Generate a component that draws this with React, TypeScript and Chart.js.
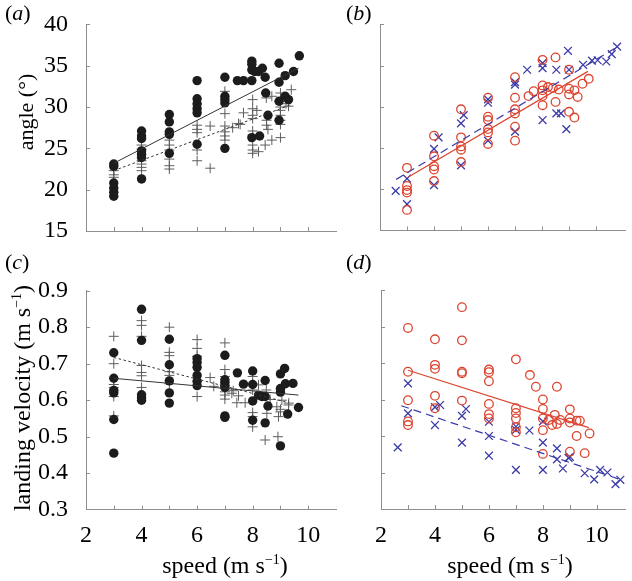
import React, { useEffect, useRef } from 'react';
import { Chart, registerables } from 'chart.js';

Chart.register(...registerables);

type P = [number, number];

// ---------- DATA ----------
// speed categories (m s^-1) used on the x axis
const xTickValues = [3, 4, 5, 6, 7, 8, 9, 10];
const xLabelValues = [2, 4, 6, 8, 10];
const angleTicks = [20, 25, 30, 35, 40];
const velocityTicks = [0.4, 0.5, 0.6, 0.7, 0.8, 0.9];

// (a) angle, filled circles
const aDots: P[] = [
  [3, 23.1], [3, 22.8], [3, 20.8], [3, 20.2], [3, 19.7], [3, 19.2],
  [4, 27.1], [4, 26.5], [4, 26.2], [4, 24.7], [4, 24.3], [4, 23.9], [4, 21.3],
  [5, 29.1], [5, 28.2], [5, 27.0], [5, 26.7], [5, 24.4],
  [6, 33.2], [6, 31.0], [6, 30.4], [6, 29.8], [6, 29.3], [6, 25.5],
  [7, 33.6], [7, 31.3], [7, 30.9], [7, 30.5], [7, 25.0],
  [7.45, 33.2], [7.67, 33.2], [7.97, 33.2],
  [7.97, 35.55], [7.97, 35.17], [7.97, 34.5], [8.07, 34.3], [8.21, 34.3], [8.35, 34.7],
  [8.45, 33.6], [8.47, 31.7], [8.55, 29.0], [7.97, 26.3], [8.25, 26.5],
  [8.95, 35.3], [8.95, 33.0], [9.17, 33.8], [9.47, 34.3], [9.68, 36.2],
  [9.17, 31.3], [9.29, 30.9], [8.95, 30.7], [8.95, 28.4],
];
// (a) angle, plus markers
const aPlus: P[] = [
  [3, 22.3], [3, 21.8], [3, 21.5],
  [4, 25.4], [4, 24.9], [4, 23.5], [4, 23.1], [4, 22.7], [4, 22.3],
  [5, 26.0], [5, 25.4], [5, 24.8], [5, 23.7], [5, 22.9], [5, 22.5],
  [6, 27.8], [6, 27.3], [6, 26.9], [6, 24.8], [6, 23.5],
  [6.47, 27.7], [6.47, 22.6],
  [7, 31.9], [7, 29.2], [7, 27.7], [7, 27.0], [7, 26.5], [7, 26.0],
  [7.28, 27.5], [7.49, 28.0], [7.55, 27.9], [7.67, 29.3],
  [8, 30.9], [8, 29.8], [8, 29.0], [8, 28.6], [8, 27.1], [8, 26.6], [8, 25.4], [8, 24.8], [8, 24.4],
  [8.15, 29.6], [8.21, 24.6], [8.45, 25.4], [8.69, 26.0], [8.49, 31.1], [8.69, 31.3],
  [8.5, 28.4], [8.5, 27.8], [8.55, 27.3],
  [9, 31.7], [9, 30.7], [9, 30.0], [9, 29.6], [9, 29.0], [9, 28.4], [9, 27.9], [9, 26.3],
  [9.39, 32.1], [9.29, 30.1], [9.2, 30.4],
];
const aFitDots: P[] = [[3, 23.2], [9.65, 34.7]];
const aFitPlus: P[] = [[3, 22.3], [9.4, 30.3]];

// (b) angle, open circles (red) and crosses (blue)
const bCircles: P[] = [
  [3, 22.6], [3, 20.4], [3, 19.9], [3, 19.6], [3, 17.5],
  [4, 26.5], [4, 24.0], [4, 22.8], [4, 22.4], [4, 21.0],
  [5, 29.7], [5, 26.3], [5, 25.2], [5, 24.8], [5, 23.3],
  [6, 31.1], [6, 28.8], [6, 28.4], [6, 27.3], [6, 26.9], [6, 25.5],
  [7, 33.6], [7, 31.1], [7, 29.7], [7, 29.2], [7, 27.6], [7, 25.9],
  [7.5, 31.3], [7.69, 31.9],
  [8.02, 35.7], [8.02, 32.6], [8.02, 32.0], [8.02, 31.3], [8.02, 30.2],
  [8.22, 32.4], [8.4, 32.3], [8.5, 36.0], [8.5, 30.6], [8.62, 32.1],
  [9, 34.5], [9, 32.2], [9, 31.5], [9, 29.4],
  [9.2, 32.0], [9.2, 28.7], [9.32, 31.2], [9.5, 32.8], [9.73, 33.4],
];
const bCrosses: P[] = [
  [2.58, 19.8], [3, 21.3], [3, 18.2],
  [4, 24.9], [4.17, 26.3], [4, 20.5],
  [5, 28.0], [5.1, 29.0], [5, 22.9],
  [6, 30.9], [6, 30.5], [6, 25.9],
  [7, 33.0], [7, 32.7], [7, 27.0],
  [7.45, 34.5], [8.02, 35.3], [8.02, 34.7], [8.02, 28.4], [8.53, 34.5], [8.53, 29.2],
  [8.7, 29.2], [8.96, 36.8], [9.0, 34.5], [8.9, 27.3],
  [9.52, 35.1], [9.85, 35.6], [10.06, 35.65], [10.38, 35.5], [10.58, 36.4], [10.78, 37.3],
];
const bFitCircles: P[] = [[3.05, 21.5], [9.7, 34.3]];
const bFitCrosses: P[] = [[2.6, 21.2], [10.8, 37.3]];

// (c) landing velocity, filled circles and plus markers
const cDots: P[] = [
  [3, 0.73], [3, 0.66], [3, 0.627], [3, 0.62], [3, 0.547], [3, 0.455],
  [4, 0.849], [4, 0.764], [4, 0.615], [4, 0.607], [4, 0.6],
  [5, 0.767], [5, 0.697], [5, 0.653], [5, 0.62], [5, 0.592],
  [6, 0.714], [6, 0.703], [6, 0.69], [6, 0.668], [6, 0.652], [6, 0.64],
  [7, 0.723], [7, 0.656], [7, 0.649], [7, 0.641], [7, 0.635], [7, 0.557], [7, 0.553],
  [7.45, 0.675], [7.67, 0.644],
  [8, 0.68], [8, 0.643], [8, 0.598], [8, 0.545],
  [8.21, 0.614], [8.33, 0.61], [8.45, 0.61], [8.45, 0.654], [8.45, 0.538], [8.55, 0.584],
  [9, 0.672], [9, 0.632], [9, 0.622], [9, 0.475],
  [9.15, 0.687], [9.18, 0.645], [9.26, 0.562], [9.45, 0.646], [9.65, 0.58],
];
const cPlus: P[] = [
  [3, 0.775], [3, 0.70], [3, 0.643], [3, 0.635], [3, 0.61], [3, 0.557],
  [4, 0.818], [4, 0.805], [4, 0.775], [4, 0.695], [4, 0.676], [4, 0.667], [4, 0.635],
  [5, 0.8], [5, 0.731], [5, 0.722], [5, 0.678], [5, 0.668], [5, 0.645],
  [6, 0.766], [6, 0.742], [6, 0.72], [6, 0.61],
  [6.47, 0.662], [6.6, 0.638],
  [7, 0.757], [7, 0.684], [7, 0.665], [7, 0.632], [7, 0.623], [7, 0.614], [7, 0.603],
  [7.25, 0.619], [7.3, 0.626], [7.49, 0.612], [7.73, 0.593], [7.43, 0.593],
  [8, 0.665], [8, 0.646], [8, 0.628], [8, 0.566], [8, 0.555], [8, 0.527],
  [8.21, 0.642], [8.49, 0.628], [8.63, 0.602], [8.87, 0.582], [8.51, 0.564], [8.45, 0.491],
  [9.05, 0.6], [9.29, 0.587], [8.93, 0.555], [8.91, 0.5], [9, 0.575], [9, 0.568], [9.3, 0.592],
];
const cFitDots: P[] = [[3, 0.66], [9.65, 0.614]];
const cFitPlus: P[] = [[3, 0.717], [9.3, 0.593]];

// (d) landing velocity, open circles (red) and crosses (blue)
const dCircles: P[] = [
  [3, 0.796], [3, 0.676], [3, 0.598], [3, 0.54], [3, 0.53],
  [4, 0.765], [4, 0.695], [4, 0.684], [4, 0.61], [4, 0.576],
  [5, 0.853], [5, 0.762], [5, 0.676], [5, 0.672], [5, 0.597],
  [6, 0.682], [6, 0.675], [6, 0.65], [6, 0.588], [6, 0.56], [6, 0.548],
  [7, 0.71], [7, 0.576], [7, 0.563], [7, 0.548], [7, 0.524], [7, 0.51],
  [7.52, 0.667], [7.74, 0.635],
  [8, 0.6], [8, 0.574], [8, 0.548], [8, 0.516], [8, 0.451],
  [8.22, 0.544], [8.34, 0.53], [8.44, 0.558], [8.52, 0.635], [8.52, 0.533], [8.64, 0.544],
  [9, 0.573], [9, 0.548], [9, 0.537], [9, 0.457],
  [9.25, 0.5], [9.25, 0.542], [9.37, 0.542], [9.55, 0.453], [9.73, 0.507],
];
const dCrosses: P[] = [
  [2.62, 0.469], [3, 0.644], [3, 0.562],
  [4, 0.579], [4, 0.53], [4.19, 0.585],
  [5, 0.555], [5, 0.482], [5.15, 0.574],
  [6, 0.539], [6, 0.5], [6, 0.446],
  [7, 0.526], [7, 0.517], [7, 0.407], [7.5, 0.515],
  [8, 0.54], [8, 0.482], [8, 0.407],
  [8.52, 0.466], [8.52, 0.436], [8.74, 0.411], [9.0, 0.443], [8.95, 0.44],
  [9.55, 0.398], [9.9, 0.381], [10.12, 0.407], [10.39, 0.4], [10.69, 0.368], [10.87, 0.38],
];
const dFitCircles: P[] = [[3, 0.68], [9.7, 0.523]];
const dFitCrosses: P[] = [[2.75, 0.583], [10.9, 0.38]];

// ---------- STYLE ----------
const W = 632;
const H = 581;
const SERIF = '"Liberation Serif", "Times New Roman", Times, serif';
const AXIS = '#8f8f8f';
const DOT = '#1c1c1c';
const PLUS = '#5e5e5e';
const RED = '#dc4430';
const BLUE = '#3c3ca8';
const TICK_FONT = 24;
const TITLE_FONT = 24;

type Seg = { t: string; size: number; italic?: boolean; rise?: number };

function drawSegs(
  ctx: CanvasRenderingContext2D,
  segs: Seg[],
  x: number,
  y: number,
  align: 'left' | 'center',
  rot: number
) {
  ctx.save();
  ctx.translate(x, y);
  ctx.rotate(rot);
  ctx.fillStyle = '#000';
  ctx.textBaseline = 'alphabetic';
  ctx.textAlign = 'left';
  const fontOf = (s: Seg) => `${s.italic ? 'italic ' : ''}${s.size}px ${SERIF}`;
  let total = 0;
  for (const s of segs) {
    ctx.font = fontOf(s);
    total += ctx.measureText(s.t).width;
  }
  let cur = align === 'center' ? -total / 2 : 0;
  for (const s of segs) {
    ctx.font = fontOf(s);
    ctx.fillText(s.t, cur, -(s.rise || 0));
    cur += ctx.measureText(s.t).width;
  }
  ctx.restore();
}

const xy = (arr: P[]) => arr.map(([x, y]) => ({ x, y }));

type Area = { left: number; top: number; right: number; bottom: number };

interface PanelCfg {
  area: Area;
  xMax: number;
  yMin: number;
  yMax: number;
  yStep: number;
  yTicks: number[];
  showX: boolean;
  showY: boolean;
  yDecimals: number;
  datasets: any[];
  letter: string;
  letterPos: [number, number];
  yTitle?: { segs: Seg[]; x: number; y: number };
  xTitle?: { segs: Seg[]; x: number; y: number };
}

const fitLine = (pts: P[], color: string, dash: number[], width: number) => ({
  data: xy(pts),
  showLine: true,
  borderColor: color,
  borderWidth: width,
  borderDash: dash,
  pointRadius: 0,
  fill: false,
});

const dotsSet = (pts: P[]) => ({
  data: xy(pts),
  pointStyle: 'circle',
  pointRadius: 4.7,
  backgroundColor: DOT,
  borderColor: DOT,
  borderWidth: 0,
  showLine: false,
});
const plusSet = (pts: P[]) => ({
  data: xy(pts),
  pointStyle: 'cross',
  pointRadius: 5,
  borderColor: PLUS,
  borderWidth: 1,
  showLine: false,
});
const circleSet = (pts: P[]) => ({
  data: xy(pts),
  pointStyle: 'circle',
  pointRadius: 4.3,
  backgroundColor: 'rgba(0,0,0,0)',
  borderColor: RED,
  borderWidth: 1.3,
  showLine: false,
});
const crossSet = (pts: P[]) => ({
  data: xy(pts),
  pointStyle: 'crossRot',
  pointRadius: 5.5,
  borderColor: BLUE,
  borderWidth: 1.3,
  showLine: false,
});

const unitSegs = (size: number): Seg[] => [
  { t: ' (m s', size },
  { t: '\u22121', size: Math.round(size * 0.6), rise: size * 0.38 },
  { t: ')', size },
];

const panels: PanelCfg[] = [
  {
    area: { left: 86, top: 12, right: 336, bottom: 231 },
    xMax: 11,
    yMin: 15,
    yMax: 40,
    yStep: 5,
    yTicks: angleTicks,
    showX: false,
    showY: true,
    yDecimals: 0,
    datasets: [
      fitLine(aFitDots, '#333', [], 1),
      fitLine(aFitPlus, '#333', [2.5, 2.5], 1),
      dotsSet(aDots),
      plusSet(aPlus),
    ],
    letter: 'a',
    letterPos: [5, 20],
    yTitle: { segs: [{ t: 'angle (\u00b0)', size: 22 }], x: 33, y: 112 },
  },
  {
    area: { left: 380, top: 12, right: 632, bottom: 230.5 },
    xMax: 11.08,
    yMin: 15,
    yMax: 40,
    yStep: 5,
    yTicks: angleTicks,
    showX: false,
    showY: false,
    yDecimals: 0,
    datasets: [
      fitLine(bFitCircles, RED, [], 1.2),
      fitLine(bFitCrosses, BLUE, [8, 5], 1.2),
      circleSet(bCircles),
      crossSet(bCrosses),
    ],
    letter: 'b',
    letterPos: [346, 20],
  },
  {
    area: { left: 86, top: 290.7, right: 336, bottom: 509.7 },
    xMax: 11,
    yMin: 0.3,
    yMax: 0.9,
    yStep: 0.1,
    yTicks: velocityTicks,
    showX: true,
    showY: true,
    yDecimals: 1,
    datasets: [
      fitLine(cFitDots, '#333', [], 1),
      fitLine(cFitPlus, '#333', [2.5, 2.5], 1),
      dotsSet(cDots),
      plusSet(cPlus),
    ],
    letter: 'c',
    letterPos: [5, 269],
    yTitle: { segs: [{ t: 'landing velocity', size: TITLE_FONT }, ...unitSegs(TITLE_FONT)], x: 30, y: 398 },
    xTitle: { segs: [{ t: 'speed', size: TITLE_FONT }, ...unitSegs(TITLE_FONT)], x: 225, y: 573 },
  },
  {
    area: { left: 381, top: 290, right: 632, bottom: 509 },
    xMax: 11.05,
    yMin: 0.3,
    yMax: 0.9,
    yStep: 0.1,
    yTicks: velocityTicks,
    showX: true,
    showY: false,
    yDecimals: 1,
    datasets: [
      fitLine(dFitCircles, RED, [], 1.2),
      fitLine(dFitCrosses, BLUE, [8, 5], 1.2),
      circleSet(dCircles),
      crossSet(dCrosses),
    ],
    letter: 'd',
    letterPos: [346, 269],
    xTitle: { segs: [{ t: 'speed', size: TITLE_FONT }, ...unitSegs(TITLE_FONT)], x: 510, y: 573 },
  },
];

const SCALE_W = 60;
const SCALE_H = 60;

function Panel({ cfg }: { cfg: PanelCfg }) {
  const ref = useRef<HTMLCanvasElement | null>(null);
  useEffect(() => {
    if (!ref.current) return;
    const a = cfg.area;
    const decor = {
      id: 'decor',
      afterDraw(chart: any) {
        const ctx: CanvasRenderingContext2D = chart.ctx;
        const xs = chart.scales.x;
        const ys = chart.scales.y;
        const ca = chart.chartArea;
        ctx.save();
        ctx.strokeStyle = AXIS;
        ctx.lineWidth = 1;
        ctx.beginPath();
        for (const v of xTickValues) {
          const px = Math.round(xs.getPixelForValue(v)) + 0.5;
          ctx.moveTo(px, ca.bottom);
          ctx.lineTo(px, ca.bottom - 4);
        }
        for (const v of cfg.yTicks) {
          const py = Math.round(ys.getPixelForValue(v)) + 0.5;
          ctx.moveTo(ca.left, py);
          ctx.lineTo(ca.left + 4, py);
        }
        ctx.stroke();
        ctx.restore();
        drawSegs(
          ctx,
          [
            { t: '(', size: 22 },
            { t: cfg.letter, size: 22, italic: true },
            { t: ')', size: 22 },
          ],
          cfg.letterPos[0],
          cfg.letterPos[1],
          'left',
          0
        );
        if (cfg.yTitle) drawSegs(ctx, cfg.yTitle.segs, cfg.yTitle.x, cfg.yTitle.y, 'center', -Math.PI / 2);
        if (cfg.xTitle) drawSegs(ctx, cfg.xTitle.segs, cfg.xTitle.x, cfg.xTitle.y, 'center', 0);
      },
    };
    const chart = new Chart(ref.current, {
      type: 'scatter',
      data: { datasets: cfg.datasets },
      options: {
        responsive: false,
        maintainAspectRatio: false,
        animation: false,
        events: [],
        layout: {
          padding: {
            left: a.left - SCALE_W,
            top: a.top,
            right: W - a.right,
            bottom: H - a.bottom - SCALE_H,
          },
        },
        plugins: { legend: { display: false }, tooltip: { enabled: false } },
        scales: {
          x: {
            type: 'linear',
            min: 2,
            max: cfg.xMax,
            afterFit: (s: any) => {
              s.height = SCALE_H;
            },
            grid: { display: false },
            border: { display: true, color: AXIS, width: 1 },
            ticks: {
              stepSize: 1,
              autoSkip: false,
              maxRotation: 0,
              padding: 4,
              color: '#000',
              font: { family: SERIF, size: TICK_FONT },
              callback: (v: any) => (cfg.showX && xLabelValues.includes(Number(v)) ? String(v) : ''),
            },
          },
          y: {
            type: 'linear',
            min: cfg.yMin,
            max: cfg.yMax,
            afterFit: (s: any) => {
              s.width = SCALE_W;
            },
            grid: { display: false },
            border: { display: true, color: AXIS, width: 1 },
            ticks: {
              stepSize: cfg.yStep,
              autoSkip: false,
              padding: 10,
              color: '#000',
              font: { family: SERIF, size: TICK_FONT },
              callback: (v: any) => (cfg.showY ? Number(v).toFixed(cfg.yDecimals) : ''),
            },
          },
        },
      },
      plugins: [decor],
    } as any);
    return () => chart.destroy();
  }, [cfg]);
  return (
    <canvas
      ref={ref}
      width={W}
      height={H}
      style={{ position: 'absolute', left: 0, top: 0, width: W, height: H }}
    />
  );
}

export default function App() {
  return (
    <div style={{ position: 'absolute', left: 0, top: 0, width: W, height: H, background: '#fff' }}>
      {panels.map((p, i) => (
        <Panel key={i} cfg={p} />
      ))}
    </div>
  );
}
